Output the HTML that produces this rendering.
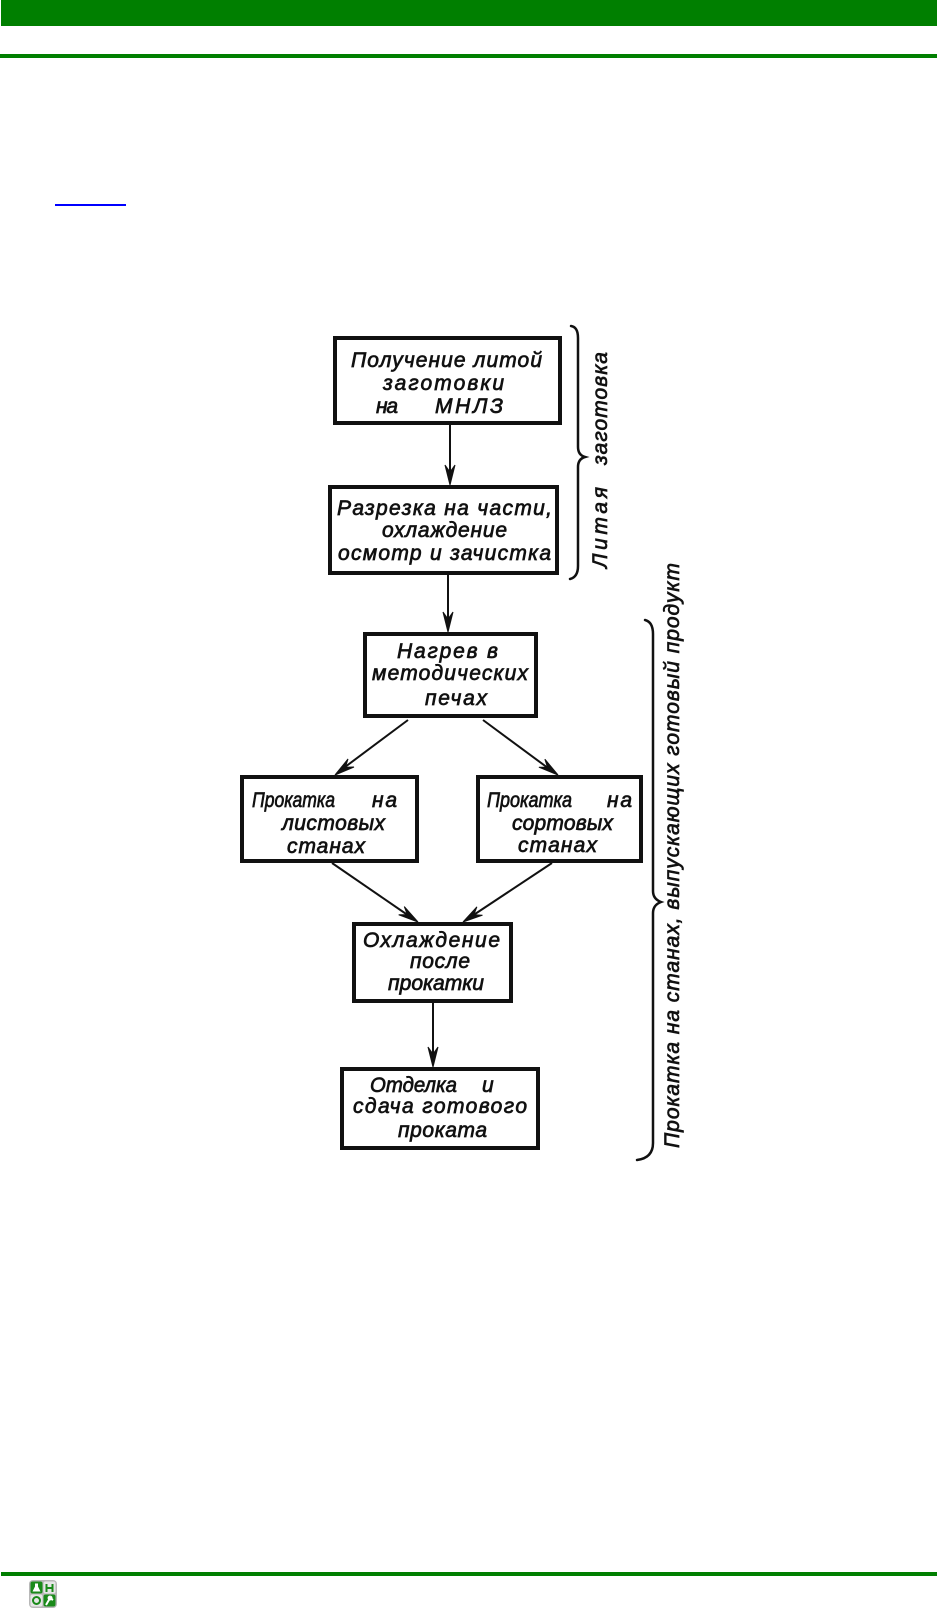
<!DOCTYPE html>
<html>
<head>
<meta charset="utf-8">
<style>
  html, body { margin:0; padding:0; background:#fff; }
  body { width:937px; height:1609px; position:relative; overflow:hidden; }
  .abs { position:absolute; }
  svg text { font-family:"Liberation Sans", "DejaVu Sans", sans-serif; font-style:italic; fill:#111; stroke:#111; stroke-width:0.7; }
</style>
</head>
<body>
<div class="abs" style="left:1px;top:0;width:936px;height:26px;background:#007f00;"></div>
<div class="abs" style="left:0;top:54px;width:937px;height:4px;background:#007f00;"></div>
<div class="abs" style="left:55px;top:204px;width:71px;height:2px;background:#0000ff;"></div>
<div class="abs" style="left:1px;top:1572px;width:936px;height:4px;background:#007f00;"></div>

<svg class="abs" style="left:0;top:0" width="937" height="1609" viewBox="0 0 937 1609" xmlns="http://www.w3.org/2000/svg">
  <!-- boxes -->
  <g fill="none" stroke="#111" stroke-width="4">
    <rect x="335" y="338" width="225" height="85"/>
    <rect x="330" y="487" width="227" height="86"/>
    <rect x="365" y="634" width="171" height="82"/>
    <rect x="242" y="777" width="175" height="84"/>
    <rect x="478" y="777" width="163" height="84"/>
    <rect x="354" y="924" width="157" height="77"/>
    <rect x="342" y="1069" width="196" height="79"/>
  </g>

  <!-- connector lines -->
  <g stroke="#111" stroke-width="2" fill="none">
    <line x1="450" y1="425" x2="450" y2="478"/>
    <line x1="448" y1="575" x2="448" y2="625"/>
    <line x1="408" y1="720" x2="341" y2="770"/>
    <line x1="483" y1="720" x2="552" y2="771"/>
    <line x1="332" y1="863" x2="412" y2="918"/>
    <line x1="552" y1="863" x2="469" y2="918"/>
    <line x1="433" y1="1003" x2="433" y2="1060"/>
  </g>
  <!-- arrowheads -->
  <g fill="#111" stroke="#111" stroke-width="1" stroke-linejoin="miter">
    <polygon points="450,485 445,465 450,472 455,465"/>
    <polygon points="448,632 443,612 448,619 453,612"/>
    <polygon points="335,775 354,767 345.4,767.2 348,759"/>
    <polygon points="558,775 538.9,767.2 547.5,767.3 544.9,759.2"/>
    <polygon points="418,922 398.7,914.8 407.3,914.6 404.3,906.6"/>
    <polygon points="463,922 482.5,915.2 473.8,914.8 476.9,906.8"/>
    <polygon points="433,1067 428,1047 433,1054 438,1047"/>
  </g>

  <!-- braces -->
  <g fill="none" stroke="#111" stroke-width="2.5" stroke-linecap="round">
    <path d="M 571 326 Q 578 327 578 338 L 578 447 Q 578 455 585 457 Q 578 459 578 467 L 578 566 Q 578 577 570 579"/>
    <path d="M 645 620 Q 653 622 653 634 L 653 891 Q 653 899 661 902 Q 653 905 653 913 L 653 1143 Q 653 1158 637 1160"/>
  </g>

  <g font-size="21">
    <!-- Box 1 -->
    <text x="351" y="367" textLength="191" lengthAdjust="spacing">Получение литой</text>
    <text x="383" y="390" textLength="121" lengthAdjust="spacing">заготовки</text>
    <text x="376" y="413" textLength="22" lengthAdjust="spacing">на</text>
    <text x="435" y="413" textLength="68" lengthAdjust="spacing">МНЛЗ</text>

    <!-- Box 2 -->
    <text x="337" y="515" textLength="215" lengthAdjust="spacing">Разрезка на части,</text>
    <text x="382" y="537" textLength="125" lengthAdjust="spacing">охлаждение</text>
    <text x="338" y="560" textLength="213" lengthAdjust="spacing">осмотр и зачистка</text>

    <!-- Box 3 -->
    <text x="397" y="658" textLength="101" lengthAdjust="spacing">Нагрев в</text>
    <text x="372" y="680" textLength="156" lengthAdjust="spacing">методических</text>
    <text x="425" y="705" textLength="62" lengthAdjust="spacing">печах</text>

    <!-- Box 4 -->
    <text x="252" y="807" textLength="83" lengthAdjust="spacingAndGlyphs">Прокатка</text>
    <text x="372" y="807" textLength="25" lengthAdjust="spacing">на</text>
    <text x="282" y="830" textLength="103" lengthAdjust="spacing">листовых</text>
    <text x="287" y="853" textLength="78" lengthAdjust="spacing">станах</text>

    <!-- Box 5 -->
    <text x="487" y="807" textLength="85" lengthAdjust="spacingAndGlyphs">Прокатка</text>
    <text x="607" y="807" textLength="25" lengthAdjust="spacing">на</text>
    <text x="512" y="830" textLength="101" lengthAdjust="spacing">сортовых</text>
    <text x="518" y="852" textLength="79" lengthAdjust="spacing">станах</text>

    <!-- Box 6 -->
    <text x="363" y="947" textLength="137" lengthAdjust="spacing">Охлаждение</text>
    <text x="410" y="968" textLength="60" lengthAdjust="spacing">после</text>
    <text x="388" y="990" textLength="96" lengthAdjust="spacingAndGlyphs">прокатки</text>

    <!-- Box 7 -->
    <text x="370" y="1092" textLength="87" lengthAdjust="spacingAndGlyphs">Отделка</text>
    <text x="482" y="1092" textLength="15" lengthAdjust="spacing">и</text>
    <text x="353" y="1113" textLength="174" lengthAdjust="spacing">сдача готового</text>
    <text x="398" y="1137" textLength="89" lengthAdjust="spacing">проката</text>
  </g>

  <!-- rotated brace labels -->
  <g font-size="21">
    <text transform="translate(607,568) rotate(-90)" textLength="81" lengthAdjust="spacing">Литая</text>
    <text transform="translate(607,465) rotate(-90)" textLength="113" lengthAdjust="spacing">заготовка</text>
    <text transform="translate(679,1148) rotate(-90)" textLength="585" lengthAdjust="spacing">Прокатка на станах, выпускающих готовый продукт</text>
  </g>

  <!-- footer icon -->
  <g transform="translate(29,1580)">
    <rect x="0" y="0" width="28" height="28" rx="4" fill="#b8b8b8"/>
    <rect x="1.5" y="1.5" width="12" height="12" rx="2" fill="#1a8a1a"/>
    <rect x="14.5" y="1.5" width="12" height="12" rx="2" fill="#e6e6e6"/>
    <rect x="1.5" y="14.5" width="12" height="12" rx="2" fill="#e6e6e6"/>
    <rect x="14.5" y="14.5" width="12" height="12" rx="2" fill="#1a8a1a"/>
    <path d="M6 3.5 h3 v3 l2.5 5 h-8 l2.5 -5 z" fill="#fff"/>
    <rect x="16.5" y="4" width="2" height="8" fill="#1a8a1a"/>
    <rect x="22.5" y="4" width="2" height="8" fill="#1a8a1a"/>
    <rect x="16.5" y="7" width="8" height="2" fill="#1a8a1a"/>
    <circle cx="7.5" cy="20.5" r="3.5" fill="none" stroke="#1a8a1a" stroke-width="2"/>
    <path d="M17 25 l4 -7 l3 2 M21 16.5 a1.5 1.5 0 1 0 0.1 0" stroke="#fff" stroke-width="2" fill="none"/>
  </g>
</svg>
</body>
</html>
